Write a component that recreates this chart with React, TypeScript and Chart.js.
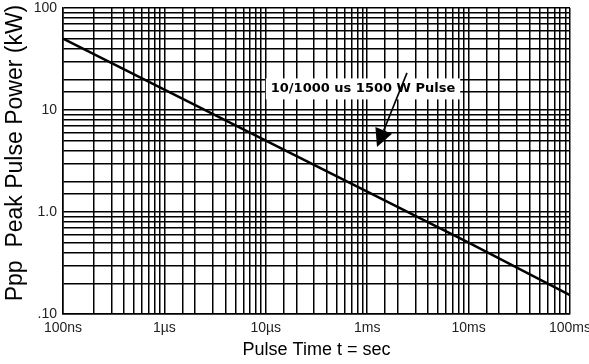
import React, { useEffect, useRef } from "react";
import { Chart, registerables } from "chart.js";

Chart.register(...registerables);

// One decade of the axis per tick label (the chart labels its decades like this)
const xTickLabels = ["100ns", "1µs", "10µs", "1ms", "10ms", "100ms"];
const pulseTime = [1, 10, 100, 1000, 10000, 100000];
const peakPower = [50, 15.8, 5.0, 1.58, 0.5, 0.153];
const yTickValues = [0.1, 1, 10, 100];
const yTickLabels = [".10", "1.0", "10", "100"];
const yTitle = "Ppp  Peak Pulse Power (kW)";
const xTitle = "Pulse Time t = sec";
const noteText = "10/1000 us 1500 W Pulse";
const noteAt = [909, 16.1];
const arrowFrom = [2468, 23.1];
const arrowTo = [1249, 4.33];

const annotate = {
  id: "annotate",
  afterDatasetsDraw(chart: any) {
    const { ctx, scales, chartArea } = chart;
    const x = scales.x;
    const y = scales.y;
    ctx.save();
    // note box
    ctx.font = "bold 13px 'DejaVu Sans', Verdana, sans-serif";
    const tx = x.getPixelForValue(noteAt[0]);
    const ty = y.getPixelForValue(noteAt[1]);
    const w = ctx.measureText(noteText).width;
    ctx.fillStyle = "#fff";
    ctx.fillRect(tx - w / 2 - 5, ty - 10.5, w + 10, 21);
    ctx.fillStyle = "#000";
    ctx.textAlign = "center";
    ctx.textBaseline = "middle";
    ctx.fillText(noteText, tx, ty);
    // arrow
    const x0 = x.getPixelForValue(arrowFrom[0]);
    const y0 = y.getPixelForValue(arrowFrom[1]);
    const x1 = x.getPixelForValue(arrowTo[0]);
    const y1 = y.getPixelForValue(arrowTo[1]);
    const ang = Math.atan2(y1 - y0, x1 - x0);
    const L = 18;
    const H = 9;
    const c = Math.cos(ang);
    const s = Math.sin(ang);
    const bx = x1 - L * c;
    const by = y1 - L * s;
    ctx.strokeStyle = "#000";
    ctx.lineWidth = 1.6;
    ctx.beginPath();
    ctx.moveTo(x0, y0);
    ctx.lineTo(bx, by);
    ctx.stroke();
    ctx.beginPath();
    ctx.moveTo(x1, y1);
    ctx.lineTo(bx + H * s, by - H * c);
    ctx.lineTo(bx - H * s, by + H * c);
    ctx.closePath();
    ctx.fill();
    ctx.restore();

    // y axis title
    ctx.save();
    ctx.font = "23px 'Liberation Sans', Arial, sans-serif";
    ctx.fillStyle = "#000";
    ctx.textAlign = "center";
    ctx.textBaseline = "middle";
    ctx.translate(16, (chartArea.top + chartArea.bottom) / 2 - 8);
    ctx.rotate(-Math.PI / 2);
    ctx.fillText(yTitle, 0, 0);
    ctx.restore();
  },
};

const isDecade = (v: number, target: number) =>
  Math.abs(Math.log10(v) - Math.log10(target)) < 1e-6;

const zeroPad = (sc: any) => {
  sc.paddingTop = 0;
  sc.paddingBottom = 0;
  sc.paddingLeft = 0;
  sc.paddingRight = 0;
};

export default function App() {
  const ref = useRef<HTMLCanvasElement>(null);
  useEffect(() => {
    if (!ref.current) return;
    const tickFont = { family: "'Liberation Sans', Arial, sans-serif", size: 14 };
    const chart = new Chart(ref.current, {
      type: "line",
      data: {
        datasets: [
          {
            data: pulseTime.map((t, i) => ({ x: t, y: peakPower[i] })),
            borderColor: "#000",
            borderWidth: 2.5,
            pointRadius: 0,
            tension: 0,
            fill: false,
          },
        ],
      },
      options: {
        responsive: false,
        animation: false,
        layout: { padding: { left: 0, right: 19, top: 8, bottom: 0 } },
        plugins: { legend: { display: false }, tooltip: { enabled: false } },
        scales: {
          x: {
            type: "logarithmic",
            position: "bottom",
            min: pulseTime[0],
            max: pulseTime[pulseTime.length - 1],
            afterFit: (sc: any) => {
              sc.height = 50;
              zeroPad(sc);
            },
            grid: { color: "#000", lineWidth: 1.5, drawTicks: false },
            border: { color: "#000", width: 1.5 },
            ticks: {
              autoSkip: false,
              maxRotation: 0,
              minRotation: 0,
              padding: 6,
              color: "#222",
              font: tickFont,
              callback: (v: any) => {
                const idx = pulseTime.findIndex((p) => isDecade(Number(v), p));
                return idx >= 0 ? xTickLabels[idx] : "";
              },
            },
            title: {
              display: true,
              text: xTitle,
              color: "#000",
              font: { family: "'Liberation Sans', Arial, sans-serif", size: 18 },
              padding: { top: 0, bottom: 3 },
            },
          },
          y: {
            type: "logarithmic",
            min: yTickValues[0],
            max: yTickValues[yTickValues.length - 1],
            afterFit: (sc: any) => {
              sc.width = 63;
              zeroPad(sc);
            },
            grid: { color: "#000", lineWidth: 1.5, drawTicks: false },
            border: { color: "#000", width: 1.5 },
            ticks: {
              autoSkip: false,
              padding: 6,
              color: "#222",
              font: tickFont,
              callback: (v: any) => {
                const idx = yTickValues.findIndex((p) => isDecade(Number(v), p));
                return idx >= 0 ? yTickLabels[idx] : "";
              },
            },
          },
        },
      },
      plugins: [annotate],
    });
    return () => chart.destroy();
  }, []);
  return (
    <div style={{ position: "fixed", left: 0, top: 0, width: 589, height: 364, background: "#fff" }}>
      <canvas ref={ref} width={589} height={364} />
    </div>
  );
}
